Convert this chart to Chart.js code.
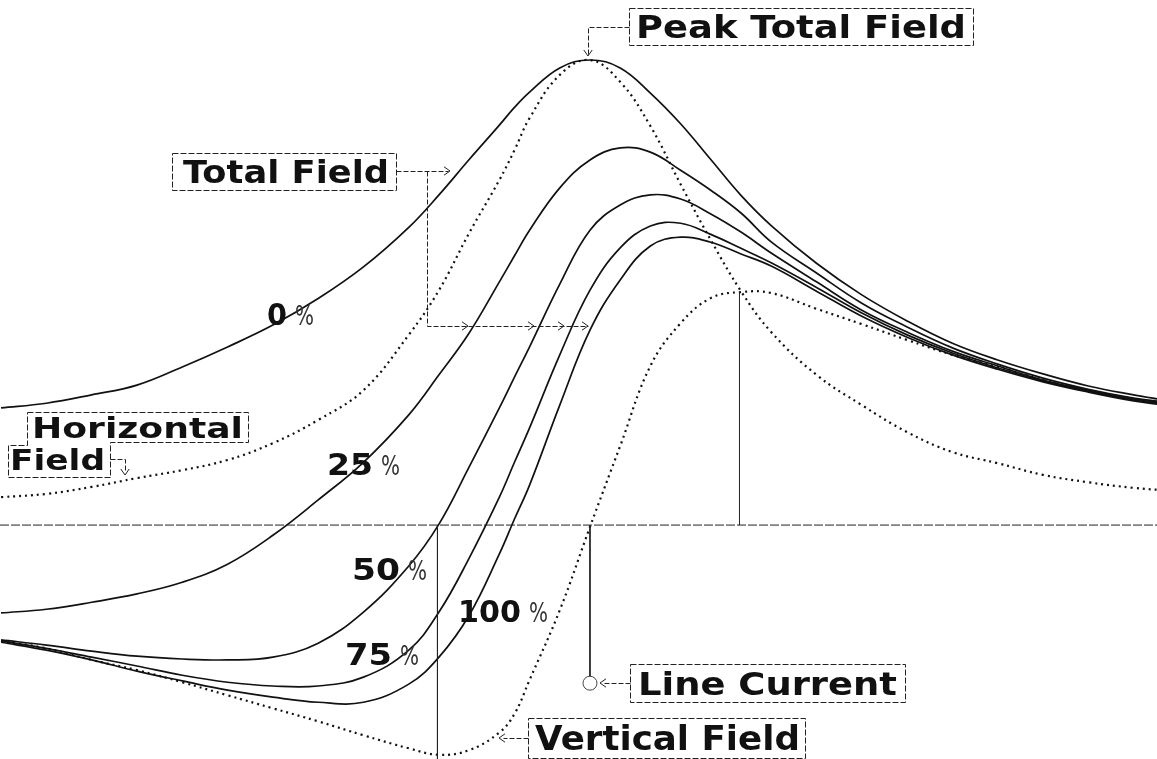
<!DOCTYPE html>
<html><head><meta charset="utf-8">
<script src="https://cdn.jsdelivr.net/npm/chart.js@4.4.1/dist/chart.umd.min.js"></script>
<style>html,body{margin:0;padding:0;background:#fff;}#wrap{width:1157px;height:759px;}</style>
</head><body><div id="wrap"><canvas id="c" width="1157" height="759"></canvas></div>
<script>
// Horizontal distance from the line current (arbitrary distance units)
const distance = [-39,-36,-33,-30,-27,-24,-21,-18,-15,-12,-10,-8,-6,-5,-4,-2,0,2,4,6,8,10,12,15,18,21,24,27,30,33,36,38];
// Field strength, % of peak total field
const total0   = [25.2,26.2,28.0,30.1,34.0,38.3,43.0,48.7,55.5,64.0,71.0,78.6,86.0,89.8,93.1,98.3,100,98.3,92.9,86.3,78.6,70.9,64.4,56.3,49.5,43.9,39.1,35.5,32.5,29.9,28.0,26.9];
const total25  = [-18.9,-18.1,-16.6,-14.8,-12.3,-8.4,-2.2,5.4,13.5,23.7,32.3,41.3,52.3,57.9,63.4,72.5,78.5,81.1,80.2,76.3,72.0,67.1,60.9,54.2,47.7,42.6,38.1,34.6,31.6,29.2,27.3,26.5];
const total50  = [-24.7,-25.8,-27.1,-28.2,-28.8,-29.0,-28.4,-25.4,-18.7,-8.8,0.2,12.5,25.2,31.8,38.3,51.8,63.4,68.8,71.0,70.1,66.9,63.0,58.5,52.3,46.2,41.5,37.4,34.2,31.2,29.0,27.1,26.2];
const total75  = [-24.9,-26.5,-28.4,-30.3,-32.3,-33.8,-34.6,-34.6,-32.7,-26.9,-18.7,-7.1,6.0,13.5,20.9,36.6,50.5,59.6,64.3,64.9,62.5,59.5,56.4,51.1,45.6,40.9,37.0,33.8,31.0,28.8,26.9,26.0];
const total100 = [-25.2,-26.9,-29.0,-31.4,-33.5,-35.5,-37.0,-38.1,-38.1,-34.2,-28.4,-19.4,-6.2,1.3,8.6,25.8,41.9,52.7,60.0,61.9,60.8,58.3,55.7,50.3,44.9,40.4,36.6,33.5,30.8,28.6,26.7,25.8];
const horizontalField = [6.0,6.7,8.2,10.1,11.8,14.0,17.6,22.6,29.0,40.9,50.5,62.8,74.2,80.6,87.5,96.8,100,95.3,85.8,73.3,61.3,50.3,41.5,32.3,25.8,20.0,15.7,13.3,10.8,9.2,8.0,7.5];
const verticalField   = [-24.9,-26.5,-29.0,-31.2,-33.8,-36.6,-39.4,-42.2,-45.2,-48.0,-49.4,-48.4,-44.6,-40.6,-33.3,-18.3,-0.4,17.0,34.2,43.4,48.8,50.1,49.9,46.5,43.2,39.8,36.6,34.0,31.2,28.8,27.1,26.0];
// Reference positions
const lineCurrentX = 0, lineCurrentY = -34.0;
const verticalMinX = -10.1, verticalMaxX = 9.9, verticalMaxY = 50.0;
const axisRange = [-39.07, 37.55];
const fieldRange = [-50.3, 112.9];

const pts = arr => distance.map((x,i)=>({x, y:arr[i]}));
const solid = (label, arr) => ({label, data: pts(arr), borderColor:'#111', borderWidth:1.7, pointRadius:0, tension:0.4, fill:false});
const dotted = (label, arr) => ({label, data: pts(arr), borderColor:'#111', borderWidth:2.2, borderDash:[2,4], pointRadius:0, tension:0.4, fill:false});
const guide = (label, a, b, dash) => ({label, data:[a,b], borderColor:'#222', borderWidth:1, borderDash:dash||[], pointRadius:0, tension:0, fill:false});

const annotations = {
  id:'annotations',
  afterDatasetsDraw(chart){
    const ctx = chart.ctx;
    ctx.save();
    ctx.strokeStyle='#222'; ctx.fillStyle='#111'; ctx.lineWidth=1;
    function box(x0,y0,x1,y1){ ctx.setLineDash([6,2]); ctx.strokeRect(x0+0.5,y0+0.5,x1-x0,y1-y0); ctx.setLineDash([]); }
    function poly(p){ ctx.setLineDash([6,2]); ctx.beginPath(); ctx.moveTo(p[0][0]+0.5,p[0][1]+0.5); for(let i=1;i<p.length;i++) ctx.lineTo(p[i][0]+0.5,p[i][1]+0.5); ctx.closePath(); ctx.stroke(); ctx.setLineDash([]); }
    function path(p){ ctx.setLineDash([5,2]); ctx.beginPath(); ctx.moveTo(p[0][0]+0.5,p[0][1]+0.5); for(let i=1;i<p.length;i++) ctx.lineTo(p[i][0]+0.5,p[i][1]+0.5); ctx.stroke(); ctx.setLineDash([]); }
    function head(x,y,dir){ const s=6; ctx.beginPath();
      if(dir==='r'){ctx.moveTo(x-s,y-s*0.7);ctx.lineTo(x,y);ctx.lineTo(x-s,y+s*0.7);}
      if(dir==='l'){ctx.moveTo(x+s,y-s*0.7);ctx.lineTo(x,y);ctx.lineTo(x+s,y+s*0.7);}
      if(dir==='d'){ctx.moveTo(x-s*0.7,y-s);ctx.lineTo(x,y);ctx.lineTo(x+s*0.7,y-s);}
      ctx.stroke(); }
    function text(t,x0,x1,base,capH,weight,color){
      const size = capH/0.73;
      ctx.font = `${weight||'bold'} ${size}px "DejaVu Sans"`;
      const w = ctx.measureText(t).width;
      ctx.save(); ctx.fillStyle=color||'#111'; ctx.translate(x0,base); ctx.scale((x1-x0)/w,1); ctx.textBaseline='alphabetic'; ctx.fillText(t,0,0); ctx.restore();
    }
    // Peak Total Field
    box(629,8,973,45); text('Peak Total Field',636,966,38,23);
    path([[629,27],[588,27],[588,54]]); head(588,56,'d');
    // Total Field
    box(172,153,396,190); text('Total Field',183,389,183,23);
    path([[396,171],[448,171]]); head(450,171,'r');
    path([[427,171],[427,326],[588,326]]);
    head(468,326,'r'); head(534,326,'r'); head(564,326,'r'); head(588,326,'r');
    // Horizontal Field
    poly([[27,412],[248,412],[248,442],[110,442],[110,477],[8,477],[8,445],[27,445]]);
    text('Horizontal',32,243,438,21); text('Field',10,105,470,21);
    path([[110,459],[125,459],[125,472]]); head(125,475,'d');
    // Line Current
    box(630,664,905,702); text('Line Current',638,897,695,23);
    path([[630,683],[604,683]]); head(600,683,'l');
    // Vertical Field
    box(528,718,805,758); text('Vertical Field',535,800,750,24);
    path([[528,738],[503,738]]); head(499,738,'l');
    // Percent labels
    const pct=[['0',267,287,325],['25',327,373,475],['50',352,400,580],['75',345,392,665],['100',458,521,622]];
    pct.forEach(p=>{ text(p[0],p[1],p[2],p[3],22); text('%',p[2]+8,p[2]+27,p[3],19,'normal','#333'); });
    ctx.restore();
  }
};

new Chart(document.getElementById('c'), {
  type:'line',
  data:{ datasets:[
    guide('baseline',{x:axisRange[0],y:0},{x:axisRange[1],y:0},[9,2]),
    guide('vmin',{x:verticalMinX,y:0},{x:verticalMinX,y:fieldRange[0]}),
    guide('vmax',{x:verticalMaxX,y:0},{x:verticalMaxX,y:verticalMaxY}),
    guide('current',{x:lineCurrentX,y:0},{x:lineCurrentX,y:lineCurrentY+1.5}),
    {label:'Line Current', data:[{x:lineCurrentX,y:lineCurrentY}], showLine:false, pointRadius:7, pointStyle:'circle', borderColor:'#444', borderWidth:1, backgroundColor:'rgba(0,0,0,0)'},
    solid('0%', total0), solid('25%', total25), solid('50%', total50), solid('75%', total75), solid('100%', total100),
    dotted('Horizontal Field', horizontalField), dotted('Vertical Field', verticalField)
  ]},
  options:{
    responsive:false, animation:false, events:[],
    layout:{padding:0, autoPadding:false},
    plugins:{legend:{display:false}, tooltip:{enabled:false}},
    scales:{
      x:{type:'linear', display:false, min:axisRange[0], max:axisRange[1]},
      y:{type:'linear', display:false, min:fieldRange[0], max:fieldRange[1]}
    }
  },
  plugins:[annotations]
});
</script></body></html>
